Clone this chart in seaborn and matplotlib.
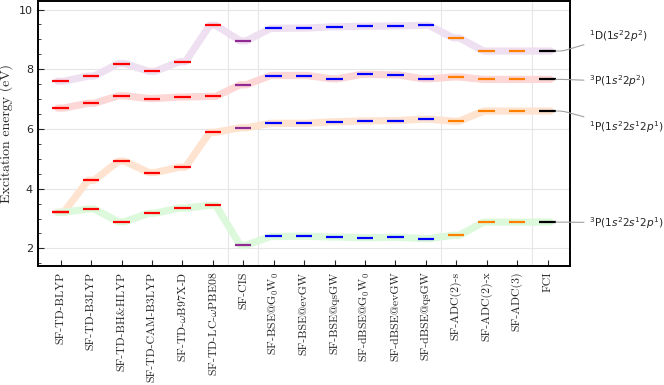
import numpy as np
import pandas as pd
import matplotlib
matplotlib.use('Agg')
import matplotlib.pyplot as plt
import seaborn as sns

# methods along the x axis
methods = ['SF-TD-BLYP', 'SF-TD-B3LYP', 'SF-TD-BH&HLYP', 'SF-TD-CAM-B3LYP',
           r'SF-TD-$\omega$B97X-D', r'SF-TD-LC-$\omega$PBE08', 'SF-CIS',
           r'SF-BSE@$\mathrm{G}_0\mathrm{W}_0$', 'SF-BSE@evGW', 'SF-BSE@qsGW',
           r'SF-dBSE@$\mathrm{G}_0\mathrm{W}_0$', 'SF-dBSE@evGW', 'SF-dBSE@qsGW',
           'SF-ADC(2)-s', 'SF-ADC(2)-x', 'SF-ADC(3)', 'FCI']
family = ['TD'] * 6 + ['CIS'] + ['BSE'] * 6 + ['ADC'] * 3 + ['FCI']

# excitation energies (eV)
e_1D = [7.60, 7.77, 8.19, 7.93, 8.25, 9.47, 8.95, 9.37, 9.38, 9.42, 9.44, 9.45, 9.47,
        9.05, 8.61, 8.61, 8.61]
e_3P_2p2 = [6.70, 6.86, 7.11, 7.02, 7.07, 7.09, 7.48, 7.79, 7.79, 7.68, 7.83, 7.81, 7.68,
            7.74, 7.66, 7.66, 7.66]
e_1P = [3.21, 4.28, 4.92, 4.54, 4.72, 5.89, 6.04, 6.19, 6.19, 6.24, 6.27, 6.28, 6.33,
        6.26, 6.60, 6.60, 6.60]
e_3P_2s2p = [3.21, 3.32, 2.89, 3.18, 3.35, 3.44, 2.11, 2.40, 2.41, 2.38, 2.36, 2.37, 2.33,
             2.44, 2.88, 2.88, 2.88]

states = ['1D', '3P_2p2', '1P', '3P_2s2p']
state_labels = [r'$^1\mathrm{D}(1s^2 2p^2)$', r'$^3\mathrm{P}(1s^2 2p^2)$',
                r'$^1\mathrm{P}(1s^2 2s^1 2p^1)$', r'$^3\mathrm{P}(1s^2 2s^1 2p^1)$']
label_y = [9.11, 7.60, 6.07, 2.86]

band_colors = {'1D': '#eedff1', '3P_2p2': '#fdd6d6', '1P': '#fde3d0', '3P_2s2p': '#dcf9dc'}
mark_colors = {'TD': '#ff0000', 'CIS': '#8e2a91', 'BSE': '#0000ff', 'ADC': '#ff7f00', 'FCI': '#000000'}

energies = {'1D': e_1D, '3P_2p2': e_3P_2p2, '1P': e_1P, '3P_2s2p': e_3P_2s2p}
half = 0.27
band_half = 0.1

rows = []
for s in states:
    for i, e in enumerate(energies[s]):
        rows.append({'state': s, 'x': i - band_half, 'E': e})
        rows.append({'state': s, 'x': i + band_half, 'E': e})
band = pd.DataFrame(rows)

sns.set_style('white')
plt.rcParams['mathtext.fontset'] = 'cm'

fig = plt.figure(figsize=(6.64, 3.85), dpi=100)
ax = fig.add_axes([0.057, 0.309, 0.801, 0.688])

for xg in [5.5, 6.5, 12.5, 15.5]:
    ax.axvline(xg, color='#e6e6e6', lw=0.8, zorder=0)
for yg in [2, 4, 6, 8, 10]:
    ax.axhline(yg, color='#e6e6e6', lw=0.8, zorder=0)

sns.lineplot(data=band, x='x', y='E', hue='state', palette=band_colors, units='state',
             estimator=None, sort=False, linewidth=5.2, legend=False, ax=ax, zorder=1)

xs = np.arange(len(methods))
for s in states:
    for i, e in enumerate(energies[s]):
        ax.hlines(e, xs[i] - half, xs[i] + half, color=mark_colors[family[i]], lw=1.6, zorder=3)

for s, lab, ly in zip(states, state_labels, label_y):
    ax.annotate(lab, xy=(xs[-1] + half, energies[s][-1]), xytext=(17.35, ly),
                textcoords='data', va='center', ha='left', fontsize=7.6,
                math_fontfamily='dejavusans', annotation_clip=False,
                arrowprops=dict(arrowstyle='-', color='#a0a0a0', lw=0.8, shrinkA=1, shrinkB=0,
                                connectionstyle='arc,angleA=180,angleB=0,armA=5,armB=7,rad=4'))

ax.set_xlim(-0.75, 16.73)
ax.set_ylim(1.41, 10.28)
ax.set_xticks(xs)
ax.set_xticklabels(methods, rotation=90, fontsize=8.5, family=['cmr10', 'DejaVu Serif'])
ax.set_yticks([2, 4, 6, 8, 10])
ax.set_yticks(np.arange(1.5, 10.3, 0.5), minor=True)
ax.tick_params(axis='y', labelsize=8, direction='in', length=4, width=0.8, left=True)
ax.tick_params(axis='y', which='minor', direction='in', length=2, width=0.6, left=True)
ax.tick_params(axis='x', direction='in', length=4, width=0.8, bottom=True, pad=4)
ax.set_xlabel('')
ax.set_ylabel('Excitation energy (eV)', fontsize=10, family=['cmr10', 'DejaVu Serif'])
for sp in ax.spines.values():
    sp.set_linewidth(1.4)
    sp.set_color('black')

fig.savefig('out.png', dpi=100)
